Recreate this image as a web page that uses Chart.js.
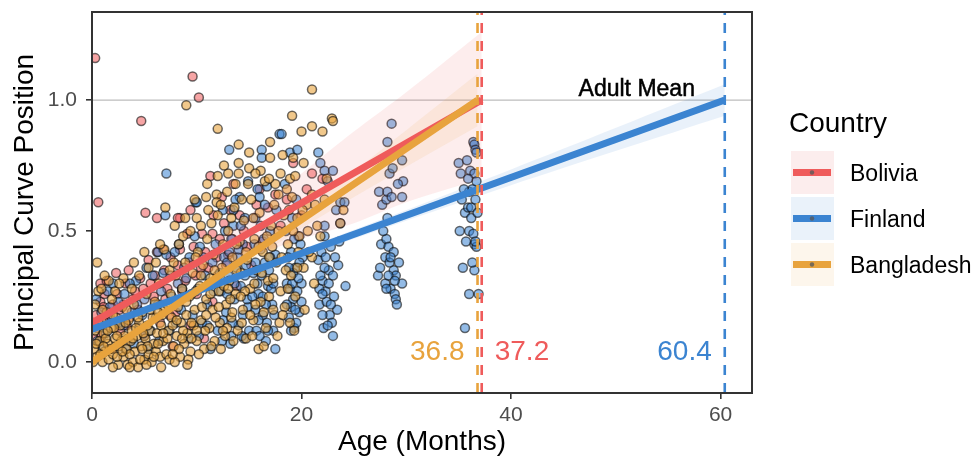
<!DOCTYPE html>
<html>
<head>
<meta charset="utf-8">
<title>Principal Curve Position by Age</title>
<script src="https://cdn.jsdelivr.net/npm/chart.js@4.4.1/dist/chart.umd.min.js"></script>
<style>
  html, body { margin: 0; padding: 0; background: #fff; }
  #wrap { width: 977px; height: 460px; }
</style>
</head>
<body>
<div id="wrap"><canvas id="chart" width="977" height="460"></canvas></div>
<script>
/* Principal curve position vs. age, three countries, with linear fits
   running up to the age where each reaches the adult mean (1.0). */

const countries = ['Bolivia', 'Finland', 'Bangladesh'];
const adultMeanAge = [37.2, 60.4, 36.8];
const xTicks = [0, 20, 40, 60];
const yTicks = [0, 0.5, 1.0];
const xRange = [0, 63];
const yRange = [-0.118, 1.336];

// [age in months, principal curve position]
const boliviaPoints = [
  [0.3,1.16],[9.6,1.09],[10.2,1.01],[4.7,0.92],[0.6,0.61],[11.3,0.71],[13.5,0.68],[5.1,0.57],
  [6.2,0.55],[8.4,0.55],[12.6,0.53],[12.4,0.63],[11.5,0.49],[9.1,0.49],[10.5,0.49],[16.8,0.59],
  [19.2,0.76],[12.2,0.47],[5.4,0.39],[6.2,0.42],[6.8,0.43],[8.2,0.37],[11.1,0.36],[3.2,0.30],
  [0.8,0.30],[2.4,0.26],[0.8,0.23],[1.1,0.21],[2.0,0.22],[3.0,0.22],[11.5,0.23],[0.4,0.18],
  [1.5,0.15],[2.7,0.12],[3.6,0.17],[4.4,0.20],[5.0,0.10],[5.9,0.25],[6.5,0.15],[7.2,0.28],
  [7.7,0.06],[8.0,0.19],[8.9,0.31],[9.4,0.14],[10.0,0.26],[10.7,0.09],[12.0,0.33],[13.0,0.41],
  [13.8,0.29],[14.5,0.50],[15.2,0.37],[17.5,0.64],[18.0,0.52],[20.5,0.66],[21.0,0.72],[0.2,0.09],
  [1.9,0.05],[4.1,0.27],[2.3,0.34],[7.5,0.40],[8.2,0.55],[9.4,0.58],
  [0.5,0.13],[1.2,0.26],[1.7,0.18],[2.6,0.20],[3.3,0.14],[3.9,0.24],[4.6,0.32],[5.6,0.30],
  [6.3,0.22],[6.9,0.35],[7.4,0.18],[8.6,0.27],[9.3,0.38],[9.9,0.33],[10.8,0.42],[11.9,0.40],
  [12.8,0.37],[13.4,0.47],[14.1,0.56],[15.7,0.60],[16.3,0.46],[18.6,0.62],[20.0,0.56],[22.0,0.70],
  [0.9,0.10],
  [1.4,0.31],[3.5,0.35],[4.9,0.28],[6.0,0.33],[7.0,0.24],[8.4,0.43],[9.7,0.44],[10.4,0.36],
  [11.6,0.56],[13.2,0.58],[14.8,0.44],[16.0,0.66]
];

const finlandPoints = [
  [0.2,0.14],[0.5,0.08],[0.9,0.19],[1.3,0.11],[1.5,0.27],[1.7,0.21],[2.2,0.06],[2.6,0.15],
  [3.1,0.26],[3.4,0.09],[3.8,0.19],[4.2,0.31],[4.5,0.13],[5.0,0.24],[5.4,0.05],[5.8,0.33],
  [6.1,0.17],[6.3,0.42],[6.6,0.27],[7.0,0.56],[7.1,0.41],[7.1,0.72],[7.4,0.12],[7.9,0.42],
  [8.2,0.30],[8.5,0.20],[8.8,0.36],[9.2,0.09],[9.5,0.26],[9.8,0.48],[9.9,0.61],[10.0,0.61],
  [10.3,0.44],[10.5,0.15],[10.8,0.33],[11.0,0.22],[11.3,0.05],[11.5,0.38],
  [0.4,0.24],[1.0,0.05],[1.9,0.16],[2.5,0.23],[3.0,0.14],[3.6,0.30],[4.0,0.07],[4.8,0.18],
  [5.2,0.36],[5.6,0.12],[6.0,0.22],[6.8,0.34],[7.6,0.25],[8.0,0.15],[8.3,0.45],[9.0,0.32],
  [9.6,0.18],[10.1,0.28],[10.6,0.40],[11.2,0.30],[11.8,0.45],
  [7.5,0.33],[8.6,0.28],[9.3,0.40],[10.2,0.10],[11.0,0.14],[11.6,0.27],[3.2,0.05],[5.0,0.10],
  [6.4,0.08],[2.0,0.30],[4.3,0.22],
  [12.0,0.12],[12.3,0.27],[12.5,0.58],[12.6,0.40],[12.8,0.19],[13.0,0.33],[13.1,0.81],[13.2,0.07],
  [13.3,0.47],[13.5,0.58],[13.5,0.52],[13.6,0.24],[13.8,0.36],[14.0,0.14],[14.1,0.63],[14.2,0.29],
  [14.4,0.45],[14.5,0.09],[14.6,0.55],[14.9,0.69],[14.9,0.21],
  [12.2,0.34],[12.4,0.08],[12.7,0.50],[12.9,0.26],[13.1,0.42],[13.4,0.15],[13.7,0.62],[13.9,0.40],
  [14.2,0.52],[14.3,0.10],[14.6,0.33],[14.8,0.24],
  [12.5,0.16],[12.9,0.38],[13.3,0.10],[13.6,0.30],[14.0,0.43],[14.4,0.18],[14.7,0.37],[15.0,0.12],
  [15.4,0.34],[15.6,0.55],[15.7,0.12],[15.8,0.66],[15.9,0.26],[16.0,0.63],[16.1,0.43],[16.2,0.81],
  [16.2,0.78],[16.3,0.18],[16.5,0.38],[16.6,0.08],[16.7,0.67],[16.8,0.29],[17.0,0.50],[17.2,0.22],
  [17.3,0.12],[17.5,0.41],[17.6,0.58],[17.9,0.87],
  [15.5,0.45],[15.6,0.20],[15.8,0.30],[16.0,0.10],[16.1,0.52],[16.3,0.25],[16.5,0.60],[16.7,0.15],
  [16.9,0.35],[17.1,0.28],[17.4,0.18],[17.5,0.05],
  [15.3,0.25],[15.6,0.38],[15.9,0.16],[16.2,0.33],[16.4,0.47],[16.6,0.22],[16.8,0.12],[17.0,0.40],
  [17.3,0.30],
  [18.1,0.87],[18.4,0.68],[18.6,0.30],[18.8,0.17],[18.9,0.80],[19.0,0.42],[19.1,0.55],[19.2,0.24],
  [19.3,0.13],[19.4,0.36],[19.5,0.62],[19.6,0.81],[19.7,0.48],[19.8,0.19],[20.0,0.30],[20.1,0.40],
  [18.5,0.50],[18.7,0.40],[18.9,0.28],[19.0,0.21],[19.2,0.34],[19.3,0.47],[19.5,0.15],[19.6,0.27],
  [19.8,0.38],[20.0,0.23],
  [18.6,0.22],[18.8,0.36],[19.0,0.12],[19.1,0.30],[19.4,0.20],[19.7,0.32],[19.9,0.45],
  [21.6,0.80],[21.6,0.39],[21.7,0.22],[21.8,0.76],[22.0,0.31],[22.1,0.13],[22.2,0.73],[22.2,0.52],
  [22.2,0.48],[22.3,0.27],[22.5,0.69],[22.6,0.35],[22.7,0.18],[22.8,0.44],[23.0,0.73],[23.0,0.10],
  [23.1,0.25],[23.3,0.58],[23.5,0.37],[23.7,0.61],[23.7,0.53],[24.1,0.61],[24.2,0.29],
  [21.7,0.28],[21.9,0.42],[22.0,0.18],[22.2,0.36],[22.4,0.23],[22.6,0.30],[22.9,0.15],[23.2,0.40],
  [23.4,0.20],[23.6,0.46],
  [21.8,0.33],[22.0,0.26],[22.3,0.40],[22.5,0.14],[22.8,0.22],[23.0,0.33],
  [27.3,0.33],[27.4,0.65],[27.6,0.45],[27.7,0.60],[28.0,0.40],[28.1,0.62],[28.1,0.47],[28.2,0.84],
  [28.2,0.65],[28.3,0.44],[28.4,0.72],[28.5,0.28],[28.6,0.91],[28.7,0.74],[28.8,0.35],[28.9,0.26],
  [29.0,0.24],[29.1,0.22],[29.3,0.38],[29.6,0.77],[29.6,0.63],[29.7,0.69],[29.6,0.30],
  [27.5,0.36],[27.8,0.50],[28.0,0.30],[28.2,0.55],[28.4,0.38],[28.6,0.63],[28.8,0.42],[29.0,0.33],
  [29.2,0.68],[28.1,0.28],[28.3,0.33],[28.5,0.40],[28.9,0.31],
  [35.0,0.76],[35.1,0.50],[35.2,0.72],[35.4,0.36],[35.6,0.57],[35.6,0.13],[35.8,0.77],[35.9,0.59],
  [36.0,0.65],[36.0,0.50],[36.0,0.26],[36.1,0.73],[36.2,0.59],[36.3,0.66],[36.4,0.84],[36.5,0.83],
  [36.5,0.72],[36.5,0.45],[36.5,0.35],[36.6,0.81],[36.7,0.80],[36.7,0.69],[36.7,0.44],[36.9,0.26],
  [36.4,0.49],[36.6,0.46],
  [35.3,0.62],[35.5,0.66],[35.7,0.46],[35.9,0.70],[36.2,0.55],[36.3,0.38],[36.6,0.62],[36.8,0.57]
];

const bangladeshPoints = [
  [0.2,0.05],[0.3,0.12],[0.5,0.02],[0.5,0.38],[0.6,0.27],[0.7,0.08],[0.9,0.16],[1.0,0.00],
  [1.1,0.11],[1.2,0.04],[1.4,0.19],[1.5,0.07],[1.6,0.01],[1.8,0.13],[1.9,0.24],[2.0,0.03],
  [2.2,0.09],[2.3,0.17],[2.5,-0.01],[2.6,0.06],[2.7,0.14],[2.9,0.21],[3.0,0.02],[3.1,0.10],
  [3.3,0.05],[3.4,-0.01],[3.5,0.16],[3.7,0.08],[3.8,0.12],[3.9,0.00],[4.0,0.22],[4.1,0.04],
  [4.3,0.10],[4.4,-0.02],[4.5,0.15],[4.7,0.06],[4.8,0.19],[5.0,0.01],[5.1,0.09],[5.2,0.26],
  [5.4,0.03],[5.5,0.12],[5.7,0.00],[5.8,0.17],[5.9,0.07],[6.0,0.23],[6.1,0.04],[6.2,0.11],
  [6.4,0.30],[6.5,0.02],[6.6,0.14],[6.8,0.08],[6.9,0.20],[7.0,0.59],[7.1,0.03],[7.3,0.12],
  [7.4,0.01],[7.5,0.26],[7.6,0.17],[7.8,0.06],[7.9,0.52],[8.0,0.33],[8.1,0.10],[8.2,0.21],
  [8.4,0.02],[8.5,0.15],[8.6,0.28],[8.8,0.07],[8.9,0.38],[9.0,0.98],[9.0,0.18],[9.1,0.11],
  [9.3,0.25],[9.4,0.04],[9.6,0.34],[9.7,0.14],[9.8,0.20],[10.0,0.55],[10.0,0.08],[10.1,0.42],
  [10.3,0.29],[10.4,0.16],[10.6,0.37],[10.7,0.05],[10.9,0.63],[10.9,0.24],[11.0,0.47],[11.1,0.58],
  [11.2,0.13],[11.3,0.32],[11.5,0.20],[11.6,0.41],[11.7,0.08],[11.9,0.64],[11.9,0.61],[12.0,0.89],
  [12.0,0.71],[12.0,0.56],[12.1,0.27],[12.2,0.15],[12.4,0.36],[12.5,0.45],[12.7,0.10],[12.8,0.22],
  [13.0,0.72],[13.0,0.50],[13.1,0.31],[13.3,0.17],[13.4,0.40],[13.6,0.59],[13.7,0.26],[13.9,0.12],
  [14.0,0.83],[14.0,0.76],[14.0,0.72],[14.1,0.46],[14.2,0.34],[14.4,0.20],[14.5,0.54],[14.7,0.09],
  [14.8,0.39],[15.0,0.80],[15.0,0.74],[15.1,0.28],[15.2,0.62],[15.4,0.16],[15.5,0.47],[15.7,0.35],
  [15.9,0.05],[16.0,0.57],[16.1,0.23],[16.3,0.42],[16.5,0.69],[16.6,0.13],[16.8,0.31],[17.0,0.84],
  [17.0,0.78],[17.1,0.52],[17.3,0.20],[17.5,0.68],[17.6,0.38],[17.8,0.64],[17.9,0.15],[18.0,0.27],
  [18.2,0.79],[18.3,0.56],[18.5,0.35],[18.7,0.45],[18.9,0.70],[18.9,0.15],[19.1,0.94],[19.1,0.63],
  [19.2,0.78],[19.4,0.25],[19.6,0.55],[19.8,0.48],[20.0,0.88],[20.2,0.36],[20.5,0.60],[21.0,1.04],
  [21.0,0.90],[21.0,0.64],[21.0,0.40],[21.5,0.52],[21.8,0.48],[22.0,0.88],[22.4,0.70],[22.9,0.93],
  [23.0,0.92],[23.7,0.53],[24.0,0.58],
  [0.1,0.00],[0.4,0.07],[0.8,0.03],[1.0,0.20],[1.3,0.09],[1.7,0.05],[2.1,0.13],[2.4,0.02],
  [2.8,0.08],[3.2,0.15],[3.6,0.03],[4.2,0.13],[4.6,0.01],[4.9,0.11],[5.3,0.06],[5.6,0.20],
  [6.3,0.07],[6.7,0.18],[7.2,0.09],[7.7,0.14],[8.3,0.05],[8.7,0.12],[9.2,0.01],[9.5,0.09],
  [9.9,0.27],[10.2,0.03],[10.5,0.21],[10.8,0.12],[11.4,0.06],[11.8,0.17],[12.3,0.05],[12.6,0.29],
  [12.9,0.13],[13.2,0.24],[13.5,0.08],[13.8,0.45],[14.3,0.15],[14.6,0.27],[15.3,0.10],[15.6,0.22],
  [16.2,0.34],[16.4,0.06],[16.9,0.25],[17.2,0.44],[17.7,0.10],[18.1,0.40],[18.4,0.21],[18.8,0.58],
  [19.0,0.33],[19.3,0.12],[19.7,0.42],[20.3,0.20],[20.6,0.50],[21.2,0.30],
  [0.3,0.22],[0.9,0.28],[1.6,0.31],[2.2,0.27],[3.0,0.32],[3.8,0.28],[4.5,0.33],[5.4,0.36],
  [6.1,0.38],[6.9,0.43],[7.4,0.35],[8.3,0.45],[8.7,0.48],[9.4,0.50],[9.9,0.40],[10.4,0.52],
  [11.4,0.53],[12.3,0.60],[12.9,0.65],[13.3,0.55],[14.3,0.62],[14.9,0.68],[15.4,0.55],[16.1,0.73],
  [16.7,0.48],[17.4,0.60],[18.0,0.72],[18.6,0.66],[19.4,0.71],[20.2,0.76],
  [2.0,-0.02],[3.6,-0.02],[5.2,-0.01],[6.6,-0.02],[7.9,0.00],[9.1,-0.01],
  [0.6,0.15],[1.1,0.06],[1.5,0.12],[2.0,0.18],[2.4,0.10],[2.9,0.04],[3.3,0.20],[3.9,0.09],
  [4.4,0.17],[4.8,0.05],[5.3,0.14],[5.9,0.02],[6.3,0.19],[6.8,0.11],[7.2,0.22],[7.7,0.03],
  [8.1,0.16],[8.6,0.09],[9.0,0.23],[9.5,0.15],[10.0,0.12],[10.4,0.33],[10.9,0.18],[11.3,0.26],
  [11.7,0.35],[12.1,0.21],[12.5,0.12],[13.0,0.28],[13.4,0.19],[13.8,0.35],[14.2,0.25],[14.7,0.42],
  [15.1,0.18],[15.5,0.30],[15.9,0.44],[16.4,0.19],[16.9,0.40],[17.3,0.32],[17.8,0.50],[18.2,0.18],
  [18.7,0.28],[19.2,0.50],[19.6,0.36],[20.1,0.58],[20.7,0.42],[21.3,0.60],[22.2,0.62],[1.2,0.33],
  [2.6,0.30],[4.0,0.38],[5.0,0.42],[6.5,0.45],[7.8,0.38],[8.9,0.55],[9.8,0.62],[11.0,0.68],
  [12.6,0.75],[13.7,0.68],[15.6,0.72],[16.9,0.70]
];

// fitted lines: [age, position] at start and end
const boliviaFit = [[0, 0.15], [37.2, 1.0]];
const finlandFit = [[0, 0.125], [60.4, 1.0]];
const bangladeshFit = [[0, 0.0], [36.8, 1.0]];

// confidence bands: ages, upper, lower
const boliviaBandAge = [0, 5, 10, 15, 20, 25, 30, 37.2];
const boliviaUpper = [0.18, 0.29, 0.41, 0.56, 0.72, 0.88, 1.03, 1.26];
const boliviaLower = [0.11, 0.22, 0.32, 0.40, 0.47, 0.53, 0.61, 0.70];
const finlandBandAge = [0, 20, 40, 60.4];
const finlandUpper = [0.145, 0.43, 0.735, 1.06];
const finlandLower = [0.105, 0.40, 0.675, 0.94];
const bangladeshBandAge = [0, 10, 20, 30, 36.8];
const bangladeshUpper = [0.03, 0.29, 0.575, 0.885, 1.10];
const bangladeshLower = [-0.03, 0.25, 0.51, 0.745, 0.90];

const COLORS = {
  Bolivia: '#EF5B5B',
  Finland: '#3B84D1',
  Bangladesh: '#E8A33D'
};
const FILLS = {
  Bolivia: 'rgba(239, 91, 91, 0.55)',
  Finland: 'rgba(59, 132, 209, 0.55)',
  Bangladesh: 'rgba(232, 163, 61, 0.6)'
};
const BANDS = {
  Bolivia: 'rgba(239, 91, 91, 0.11)',
  Finland: 'rgba(59, 132, 209, 0.11)',
  Bangladesh: 'rgba(232, 163, 61, 0.11)'
};
const KEY_BG = {
  Bolivia: '#FCEDED',
  Finland: '#EAF2FA',
  Bangladesh: '#FDF6EC'
};
const FONT = "'Liberation Sans', Arial, Helvetica, sans-serif";

Chart.defaults.font.family = FONT;

const toXY = arr => arr.map(p => ({ x: p[0], y: p[1] }));
const band = (ages, vals) => ages.map((a, i) => ({ x: a, y: vals[i] }));

function pointSet(name, pts, order) {
  return {
    type: 'scatter',
    label: name,
    data: toXY(pts),
    backgroundColor: FILLS[name],
    borderColor: 'rgba(10, 10, 10, 0.6)',
    borderWidth: 1.5,
    pointRadius: 4.5,
    pointHoverRadius: 4.5,
    clip: 0,
    order
  };
}

function fitLine(name, pts, order) {
  return {
    type: 'line',
    label: name + ' fit',
    data: toXY(pts),
    borderColor: COLORS[name],
    borderWidth: 7,
    pointRadius: 0,
    fill: false,
    borderCapStyle: 'butt',
    order
  };
}

function bandPair(name, ages, upper, lower, order) {
  return [{
    type: 'line',
    label: name + ' upper',
    data: band(ages, upper),
    borderWidth: 0,
    pointRadius: 0,
    backgroundColor: BANDS[name],
    fill: '+1',
    tension: 0.3,
    order
  }, {
    type: 'line',
    label: name + ' lower',
    data: band(ages, lower),
    borderWidth: 0,
    pointRadius: 0,
    fill: false,
    tension: 0.3,
    order
  }];
}

function adultLine(i) {
  const name = countries[i];
  return {
    type: 'line',
    label: name + ' adult age',
    data: [{ x: adultMeanAge[i], y: yRange[0] }, { x: adultMeanAge[i], y: yRange[1] }],
    borderColor: COLORS[name],
    borderWidth: 2.6,
    borderDash: [10, 8],
    pointRadius: 0,
    fill: false,
    order: 0
  };
}

const datasets = [
  adultLine(0), adultLine(1), adultLine(2),
  fitLine('Bangladesh', bangladeshFit, 1),
  fitLine('Finland', finlandFit, 2),
  fitLine('Bolivia', boliviaFit, 3),
  ...bandPair('Bangladesh', bangladeshBandAge, bangladeshUpper, bangladeshLower, 4),
  ...bandPair('Finland', finlandBandAge, finlandUpper, finlandLower, 5),
  ...bandPair('Bolivia', boliviaBandAge, boliviaUpper, boliviaLower, 6),
  pointSet('Bangladesh', bangladeshPoints, 7),
  pointSet('Finland', finlandPoints, 8),
  pointSet('Bolivia', boliviaPoints, 9),
  {
    type: 'line',
    label: 'adult mean',
    data: [{ x: xRange[0], y: 1.0 }, { x: xRange[1], y: 1.0 }],
    borderColor: '#BDBDBD',
    borderWidth: 1.2,
    pointRadius: 0,
    fill: false,
    order: 10
  }
];

// panel border, text annotations and the legend
const overlay = {
  id: 'overlay',
  afterDatasetsDraw(chart) {
    const { ctx, chartArea: a, scales: { x, y } } = chart;
    ctx.save();

    ctx.strokeStyle = '#333';
    ctx.lineWidth = 2;
    ctx.strokeRect(a.left, a.top, a.right - a.left, a.bottom - a.top);

    // "Adult Mean"
    ctx.font = '23px ' + FONT;
    ctx.fillStyle = '#000';
    ctx.strokeStyle = '#000';
    ctx.lineWidth = 0.5;
    ctx.textAlign = 'center';
    ctx.textBaseline = 'alphabetic';
    ctx.fillText('Adult Mean', x.getPixelForValue(52), y.getPixelForValue(1.0) - 4);
    ctx.strokeText('Adult Mean', x.getPixelForValue(52), y.getPixelForValue(1.0) - 4);

    // ages where each country reaches the adult mean
    ctx.font = '28px ' + FONT;
    const baseY = y.getPixelForValue(0) - 2;
    const sides = { Bolivia: 1, Finland: -1, Bangladesh: -1 };
    countries.forEach((name, i) => {
      const px = x.getPixelForValue(adultMeanAge[i]);
      const side = sides[name];
      ctx.fillStyle = COLORS[name];
      ctx.textAlign = side > 0 ? 'left' : 'right';
      ctx.fillText(adultMeanAge[i].toFixed(1), px + side * 13, baseY);
    });

    // legend
    ctx.textAlign = 'left';
    ctx.fillStyle = '#000';
    ctx.font = '28px ' + FONT;
    ctx.fillText('Country', 789, 132);
    ctx.font = '23px ' + FONT;
    countries.forEach((name, i) => {
      const top = 151 + i * 46;
      ctx.fillStyle = KEY_BG[name];
      ctx.fillRect(791, top, 43, 43);
      ctx.strokeStyle = COLORS[name];
      ctx.lineWidth = 7;
      ctx.beginPath();
      ctx.moveTo(793, top + 21.5);
      ctx.lineTo(831, top + 21.5);
      ctx.stroke();
      ctx.fillStyle = 'rgba(90, 90, 90, 0.8)';
      ctx.beginPath();
      ctx.arc(812, top + 21.5, 2.2, 0, Math.PI * 2);
      ctx.fill();
      ctx.fillStyle = '#000';
      ctx.fillText(name, 850, top + 30);
    });

    ctx.restore();
  }
};

new Chart(document.getElementById('chart'), {
  type: 'scatter',
  data: { datasets },
  options: {
    responsive: false,
    animation: false,
    devicePixelRatio: 1,
    layout: { padding: { left: 0, right: 225, top: 12, bottom: 0 } },
    plugins: {
      legend: { display: false },
      tooltip: { enabled: false }
    },
    scales: {
      x: {
        type: 'linear',
        min: xRange[0],
        max: xRange[1],
        afterBuildTicks: s => { s.ticks = xTicks.map(v => ({ value: v })); },
        afterFit: s => { s.height = 67; s.paddingLeft = 0; s.paddingRight = 0; },
        grid: { drawOnChartArea: false, drawTicks: true, tickLength: 6, color: '#333', lineWidth: 1.6 },
        border: { display: false },
        ticks: { color: '#4D4D4D', font: { size: 21 }, padding: 4, maxRotation: 0, callback: v => String(v) },
        title: {
          display: true,
          text: 'Age (Months)',
          color: '#000',
          font: { size: 28, lineHeight: 1 },
          padding: { top: 0, bottom: 4 }
        }
      },
      y: {
        type: 'linear',
        min: yRange[0],
        max: yRange[1],
        afterBuildTicks: s => { s.ticks = yTicks.map(v => ({ value: v })); },
        afterFit: s => { s.width = 92; s.paddingTop = 0; s.paddingBottom = 0; },
        grid: { drawOnChartArea: false, drawTicks: true, tickLength: 6, color: '#333', lineWidth: 1.6 },
        border: { display: false },
        ticks: { color: '#4D4D4D', font: { size: 21 }, padding: 9, callback: v => v.toFixed(1) },
        title: {
          display: true,
          text: 'Principal Curve Position',
          color: '#000',
          font: { size: 28, lineHeight: 1 },
          padding: { top: 11, bottom: 0 }
        }
      }
    }
  },
  plugins: [overlay]
});
</script>
</body>
</html>
